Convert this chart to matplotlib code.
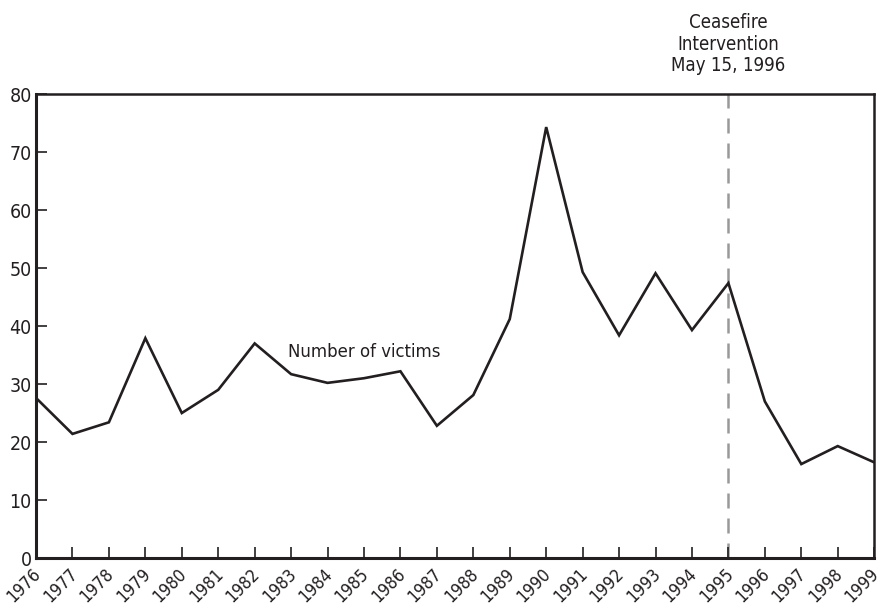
import matplotlib.pyplot as plt

years = list(range(1976, 2000))
victims = [27.6, 21.4, 23.4, 37.9, 25.0, 29.0, 37.0, 31.7, 30.2, 31.0, 32.2, 22.8,
           28.1, 41.2, 74.3, 49.3, 38.4, 49.1, 39.3, 47.4, 27.0, 16.2, 19.3, 16.5]
y_ticks = [0, 10, 20, 30, 40, 50, 60, 70, 80]
event_year = 1995
event_label = 'Ceasefire\nIntervention\nMay 15, 1996'
series_label = 'Number of victims'

plt.rcParams['font.family'] = ['DejaVu Sans']
plt.rcParams['font.stretch'] = 'condensed'
ink = '#231f20'

fig = plt.figure(figsize=(8.83, 6.09), dpi=100)
ax = fig.add_axes([0.0408, 0.0837, 0.9492, 0.7619])

ax.plot(years, victims, color=ink, linewidth=1.9, solid_joinstyle='miter')
ax.plot([event_year, event_year], [0, 80], color='#999999', linewidth=1.8,
        dashes=(6, 4), zorder=1)

ax.set_xlim(years[0], years[-1])
ax.set_ylim(0, 80)
ax.set_xticks(years)
ax.set_xticklabels([])
# rotated year labels, nudged a bit left so the last one stays inside
for y in years:
    ax.annotate(str(y), xy=(y, 0), xytext=(-3, -5), textcoords='offset points',
                rotation=45, ha='right', va='top', rotation_mode='anchor',
                fontsize=12.5, color=ink, annotation_clip=False)
ax.set_yticks(y_ticks)
ax.set_yticklabels([str(v) for v in y_ticks], fontsize=14)
ax.tick_params(direction='in', length=8, width=1.2, color=ink, labelcolor=ink)
ax.tick_params(axis='y', pad=3)
for side, s in ax.spines.items():
    s.set_linewidth(2.2 if side in ('left', 'bottom') else 1.8)
    s.set_color(ink)

ax.text(1982.92, 35.5, series_label, fontsize=13.2, color=ink, va='center', ha='left')
ax.text(event_year, 83.3, event_label, fontsize=13.4, color=ink, ha='center',
        va='bottom', linespacing=1.15, clip_on=False)

fig.savefig('out.png', dpi=100)
